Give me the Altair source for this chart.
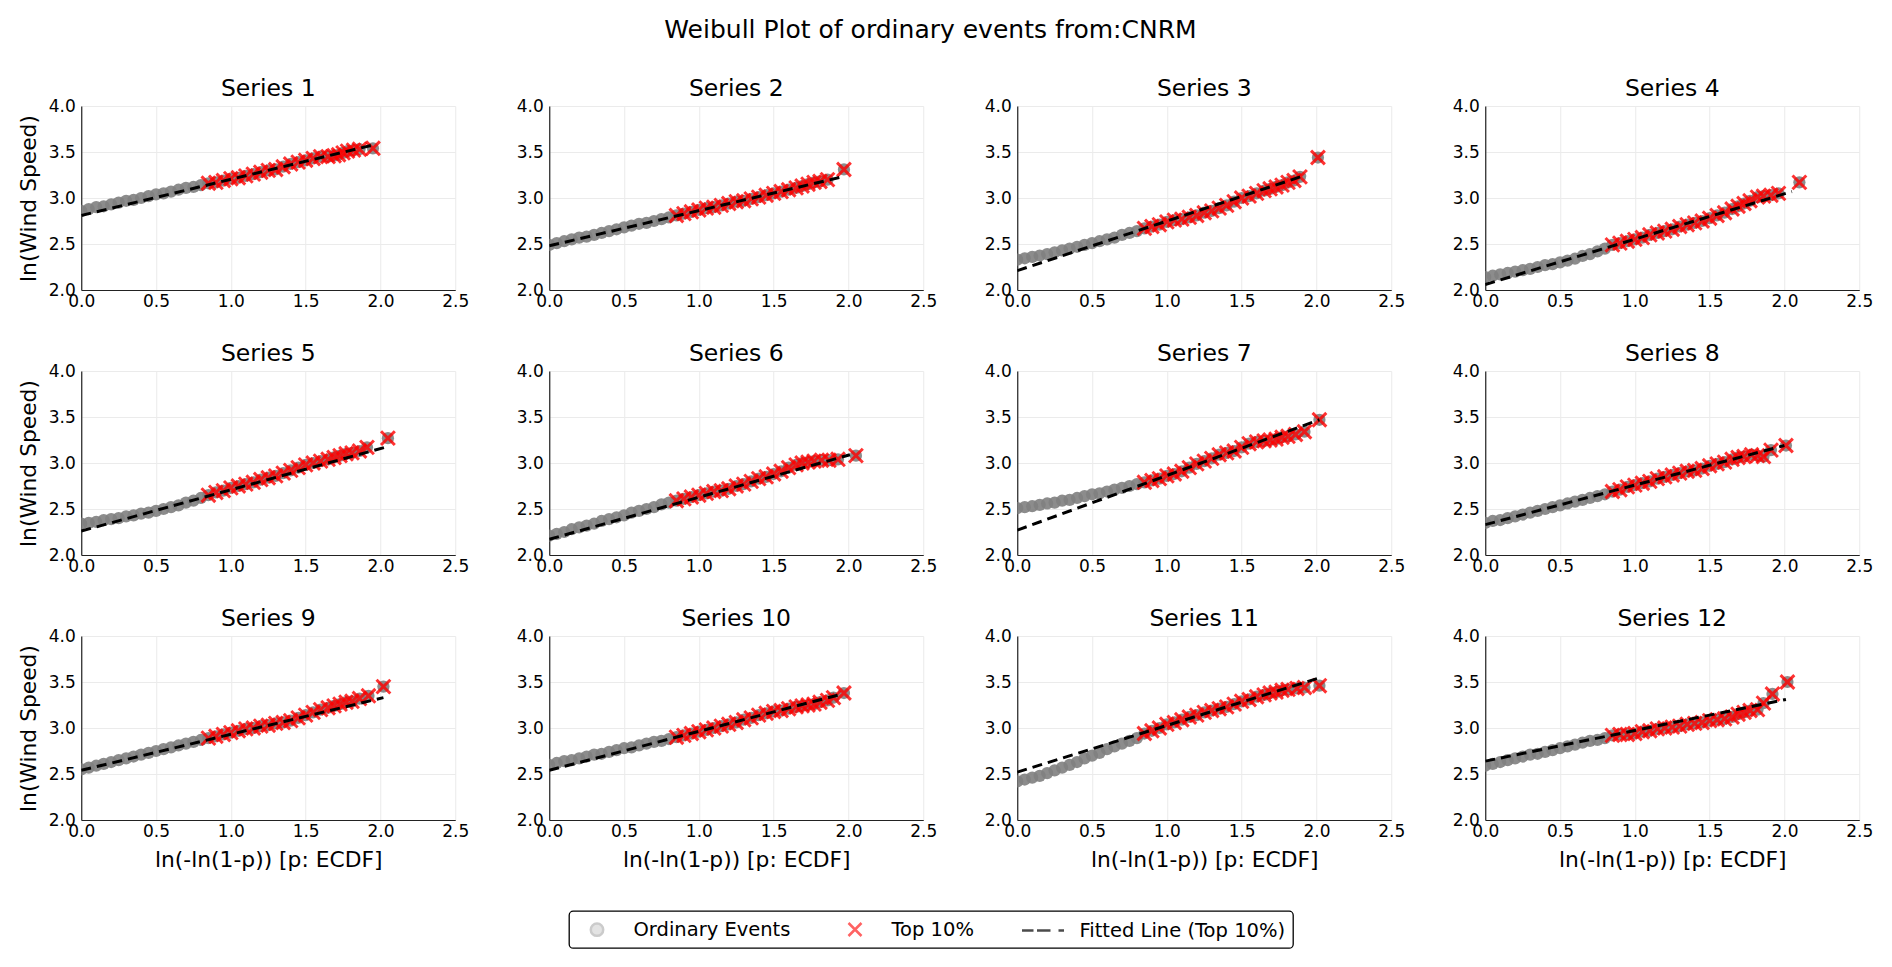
import altair as alt
import pandas as pd

TITLE = "Weibull Plot of ordinary events from:CNRM"
SERIES = ["Series 1", "Series 2", "Series 3", "Series 4", "Series 5", "Series 6",
          "Series 7", "Series 8", "Series 9", "Series 10", "Series 11", "Series 12"]
KINDS = ["Ordinary Events", "Top 10%", "Fitted Line (Top 10%)"]
X_TICKS = [0.0, 0.5, 1.0, 1.5, 2.0, 2.5]
Y_TICKS = [2.0, 2.5, 3.0, 3.5, 4.0]

# x positions (ln(-ln(1-p))) of the ordinary events band and of the top-10% band
X_ORD = [0.00, 0.05, 0.10, 0.15, 0.20, 0.25, 0.30, 0.35, 0.40, 0.45, 0.50, 0.55,
         0.60, 0.65, 0.70, 0.75, 0.80]
X_TOP = [0.85, 0.90, 0.95, 1.00, 1.05, 1.10, 1.15, 1.20, 1.25, 1.30, 1.35, 1.40,
         1.45, 1.50, 1.55, 1.60, 1.65]

Y_ORD = [
    [2.86, 2.88, 2.90, 2.91, 2.93, 2.95, 2.97, 2.98, 3.00, 3.02, 3.04, 3.05, 3.07, 3.09, 3.11, 3.12, 3.14],
    [2.49, 2.51, 2.53, 2.55, 2.57, 2.58, 2.60, 2.62, 2.64, 2.66, 2.68, 2.70, 2.72, 2.73, 2.75, 2.77, 2.79],
    [2.33, 2.345, 2.36, 2.375, 2.39, 2.41, 2.43, 2.45, 2.47, 2.49, 2.51, 2.53, 2.55, 2.57, 2.60, 2.62, 2.64],
    [2.14, 2.155, 2.17, 2.185, 2.20, 2.215, 2.23, 2.25, 2.27, 2.28, 2.30, 2.32, 2.34, 2.37, 2.39, 2.42, 2.45],
    [2.34, 2.35, 2.36, 2.38, 2.39, 2.40, 2.42, 2.43, 2.45, 2.46, 2.48, 2.50, 2.52, 2.54, 2.57, 2.59, 2.62],
    [2.21, 2.23, 2.25, 2.28, 2.30, 2.32, 2.34, 2.37, 2.39, 2.41, 2.43, 2.46, 2.48, 2.50, 2.52, 2.55, 2.57],
    [2.51, 2.52, 2.53, 2.545, 2.56, 2.57, 2.59, 2.60, 2.62, 2.64, 2.66, 2.67, 2.69, 2.71, 2.73, 2.75, 2.77],
    [2.35, 2.37, 2.38, 2.40, 2.42, 2.44, 2.46, 2.48, 2.50, 2.52, 2.54, 2.56, 2.58, 2.60, 2.62, 2.64, 2.66],
    [2.55, 2.57, 2.59, 2.61, 2.63, 2.65, 2.67, 2.69, 2.71, 2.73, 2.75, 2.77, 2.79, 2.81, 2.83, 2.85, 2.87],
    [2.60, 2.62, 2.64, 2.65, 2.67, 2.69, 2.71, 2.72, 2.74, 2.76, 2.78, 2.79, 2.81, 2.83, 2.85, 2.86, 2.88],
    [2.42, 2.44, 2.46, 2.48, 2.51, 2.54, 2.57, 2.60, 2.63, 2.67, 2.70, 2.73, 2.77, 2.80, 2.83, 2.86, 2.89],
    [2.59, 2.61, 2.63, 2.65, 2.67, 2.69, 2.71, 2.72, 2.74, 2.76, 2.78, 2.80, 2.82, 2.84, 2.86, 2.87, 2.89],
]

Y_TOP = [
    [3.16, 3.17, 3.19, 3.21, 3.22, 3.24, 3.26, 3.28, 3.30, 3.31, 3.34, 3.37, 3.39, 3.41, 3.43, 3.45, 3.45],
    [2.81, 2.83, 2.85, 2.87, 2.89, 2.90, 2.92, 2.94, 2.96, 2.97, 2.99, 3.01, 3.03, 3.05, 3.07, 3.09, 3.11],
    [2.67, 2.69, 2.71, 2.74, 2.76, 2.77, 2.79, 2.81, 2.84, 2.86, 2.89, 2.92, 2.96, 3.00, 3.02, 3.05, 3.08],
    [2.49, 2.51, 2.53, 2.55, 2.57, 2.60, 2.62, 2.64, 2.66, 2.69, 2.71, 2.73, 2.75, 2.78, 2.81, 2.84, 2.88],
    [2.65, 2.68, 2.70, 2.73, 2.75, 2.77, 2.79, 2.82, 2.84, 2.86, 2.89, 2.92, 2.95, 2.98, 3.00, 3.02, 3.04],
    [2.59, 2.61, 2.63, 2.65, 2.67, 2.69, 2.70, 2.72, 2.75, 2.77, 2.80, 2.83, 2.85, 2.88, 2.91, 2.95, 2.98],
    [2.79, 2.81, 2.83, 2.86, 2.88, 2.91, 2.95, 2.99, 3.02, 3.05, 3.09, 3.11, 3.13, 3.17, 3.21, 3.23, 3.24],
    [2.69, 2.71, 2.74, 2.76, 2.78, 2.80, 2.83, 2.85, 2.87, 2.89, 2.91, 2.92, 2.94, 2.97, 2.99, 3.01, 3.04],
    [2.89, 2.91, 2.93, 2.95, 2.97, 2.99, 3.00, 3.02, 3.03, 3.05, 3.06, 3.08, 3.11, 3.14, 3.17, 3.20, 3.22],
    [2.90, 2.92, 2.94, 2.96, 2.98, 3.00, 3.02, 3.04, 3.06, 3.09, 3.11, 3.14, 3.16, 3.18, 3.19, 3.21, 3.23],
    [2.94, 2.97, 3.00, 3.04, 3.06, 3.09, 3.12, 3.14, 3.17, 3.19, 3.21, 3.23, 3.26, 3.29, 3.31, 3.34, 3.36],
    [2.92, 2.93, 2.93, 2.94, 2.96, 2.97, 2.99, 3.00, 3.01, 3.02, 3.04, 3.05, 3.06, 3.08, 3.09, 3.10, 3.12],
]

X_TAIL = [
    [1.69, 1.72, 1.75, 1.78, 1.82, 1.86, 1.95],
    [1.69, 1.73, 1.77, 1.81, 1.86, 1.97],
    [1.69, 1.73, 1.77, 1.81, 1.85, 1.89, 2.01],
    [1.69, 1.73, 1.77, 1.82, 1.86, 1.91, 1.96, 2.10],
    [1.69, 1.73, 1.77, 1.81, 1.86, 1.91, 2.05],
    [1.69, 1.73, 1.77, 1.82, 1.87, 1.93, 2.05],
    [1.69, 1.73, 1.77, 1.81, 1.86, 1.92, 2.02],
    [1.69, 1.73, 1.78, 1.82, 1.86, 1.91, 2.01],
    [1.69, 1.73, 1.77, 1.81, 1.86, 1.92, 2.02],
    [1.69, 1.73, 1.77, 1.81, 1.86, 1.90, 1.97],
    [1.69, 1.73, 1.77, 1.81, 1.87, 1.92, 2.02],
    [1.69, 1.73, 1.77, 1.82, 1.86, 1.92, 2.02],
]
Y_TAIL = [
    [3.46, 3.47, 3.49, 3.51, 3.52, 3.53, 3.54],
    [3.13, 3.15, 3.17, 3.18, 3.20, 3.31],
    [3.10, 3.12, 3.14, 3.17, 3.19, 3.23, 3.44],
    [2.91, 2.94, 2.97, 3.01, 3.02, 3.03, 3.05, 3.17],
    [3.06, 3.08, 3.10, 3.11, 3.13, 3.17, 3.27],
    [3.00, 3.01, 3.02, 3.03, 3.03, 3.04, 3.08],
    [3.25, 3.26, 3.28, 3.29, 3.31, 3.34, 3.47],
    [3.06, 3.07, 3.09, 3.08, 3.07, 3.14, 3.19],
    [3.24, 3.26, 3.28, 3.29, 3.32, 3.35, 3.45],
    [3.24, 3.25, 3.26, 3.28, 3.30, 3.33, 3.38],
    [3.38, 3.39, 3.41, 3.42, 3.43, 3.44, 3.46],
    [3.15, 3.17, 3.19, 3.20, 3.27, 3.37, 3.50],
]

# fitted line (top 10 %): value at x = 0 and at its right end
FIT_Y0 = [2.81, 2.48, 2.21, 2.06, 2.26, 2.17, 2.27, 2.33, 2.54, 2.54, 2.52, 2.64]
FIT_X1 = [1.96, 1.96, 1.93, 2.05, 2.03, 2.01, 2.02, 2.00, 2.02, 1.96, 2.01, 2.01]
FIT_Y1 = [3.58, 3.23, 3.25, 3.07, 3.17, 3.09, 3.47, 3.19, 3.33, 3.37, 3.54, 3.31]

# ---- tables -------------------------------------------------------------
rows = []
for i, name in enumerate(SERIES):
    for x, y in zip(X_ORD, Y_ORD[i]):
        rows.append({"series": name, "x": x, "y": y, "top": False})
    for x, y in zip(X_TOP, Y_TOP[i]):
        rows.append({"series": name, "x": x, "y": y, "top": True})
    for x, y in zip(X_TAIL[i], Y_TAIL[i]):
        rows.append({"series": name, "x": x, "y": y, "top": True})
points = pd.DataFrame(rows)

fit_rows = []
for i, name in enumerate(SERIES):
    fit_rows.append({"series": name, "x": 0.0, "y": FIT_Y0[i]})
    fit_rows.append({"series": name, "x": FIT_X1[i], "y": FIT_Y1[i]})
fits = pd.DataFrame(fit_rows)

X_PATH = "M-1,-1L1,1M-1,1L1,-1"

W, H = 374, 184


def panel(i):
    name = SERIES[i]
    row, col = divmod(i, 4)
    x_axis = alt.Axis(values=X_TICKS, format=".1f",
                      title="ln(-ln(1-p)) [p: ECDF]" if row == 2 else None)
    y_axis = alt.Axis(values=Y_TICKS, format=".1f",
                      title="ln(Wind Speed)" if col == 0 else None)
    xenc = alt.X("x:Q", scale=alt.Scale(domain=[0, 2.5], nice=False), axis=x_axis)
    yenc = alt.Y("y:Q", scale=alt.Scale(domain=[2, 4], nice=False), axis=y_axis)

    base = alt.Chart(points).transform_filter(alt.datum.series == name)
    gray = base.mark_circle(size=150, color="#7f7f7f", opacity=0.9, clip=True).encode(x=xenc, y=yenc)
    red = base.transform_filter("datum.top").mark_point(
        shape=X_PATH, filled=False, size=190, color="#ff0000", strokeWidth=3,
        opacity=0.8, clip=True).encode(x=xenc, y=yenc)
    line = alt.Chart(fits).transform_filter(alt.datum.series == name).mark_line(
        color="black", strokeDash=[10, 6], strokeWidth=3, clip=True).encode(x=xenc, y=yenc)
    return alt.layer(gray, red, line).properties(
        width=W, height=H,
        title=alt.TitleParams(name, fontSize=23.5, fontWeight="normal", offset=-3,
                              frame="group", color="black"),
    )


grid = alt.concat(*[panel(i) for i in range(12)], columns=4,
                  spacing={"row": 81, "column": 94}, bounds="flush")

CIRCLE_PATH = "M-0.62,0A0.62,0.62,0,1,1,0.62,0A0.62,0.62,0,1,1,-0.62,0Z"
LEG_X_PATH = "M-0.65,-0.65L0.65,0.65M-0.65,0.65L0.65,-0.65"
DASH_PATH = "M-2.1,0L-0.95,0M-0.6,0L0.75,0M1.55,0L2.1,0"

legend_df = pd.DataFrame({"kind": KINDS})
leg = alt.Legend(title=None, orient="none", legendX=488, legendY=805, direction="horizontal",
                 symbolSize=400, symbolStrokeWidth=2.5, symbolOffset=9.5,
                 labelFontSize=19.5, labelOffset=25,
                 columnPadding=43, padding=7, strokeColor="#000000",
                 cornerRadius=4, fillColor="white", labelLimit=500, labelColor="black")
legend_chart = alt.Chart(legend_df).mark_point(filled=False).encode(
    fill=alt.Fill("kind:N", scale=alt.Scale(domain=KINDS, range=["#c8c8c8", "transparent", "transparent"]), legend=leg),
    stroke=alt.Stroke("kind:N", scale=alt.Scale(domain=KINDS, range=["#b6b6b6", "#ff2020", "#000000"]), legend=leg),
    shape=alt.Shape("kind:N", scale=alt.Scale(domain=KINDS, range=[CIRCLE_PATH, LEG_X_PATH, DASH_PATH]), legend=leg),
).transform_filter("false").properties(width=1, height=1)

chart = alt.vconcat(grid, legend_chart, center=True, spacing=20).properties(
    title=alt.TitleParams(TITLE, fontSize=25, fontWeight="normal", anchor="middle", offset=34,
                          dx=-15, color="black"),
    padding={"left": 10, "top": 9, "right": 5, "bottom": 5},
).configure(font="DejaVu Sans").configure_view(strokeWidth=0).configure_axis(
    grid=True, gridColor="#ebebeb", gridWidth=1, domainColor="#222222", domainWidth=1.2,
    ticks=False, labelFontSize=17, labelColor="black", titleFontSize=21.8,
    titleFontWeight="normal", titleColor="black",
).configure_axisX(labelPadding=3, titlePadding=10, labelFlush=False).configure_axisY(
    labelPadding=6, titlePadding=8).configure_legend(strokeWidth=1.3)

chart.save("out.html", embed_options={"renderer": "svg", "actions": False})
